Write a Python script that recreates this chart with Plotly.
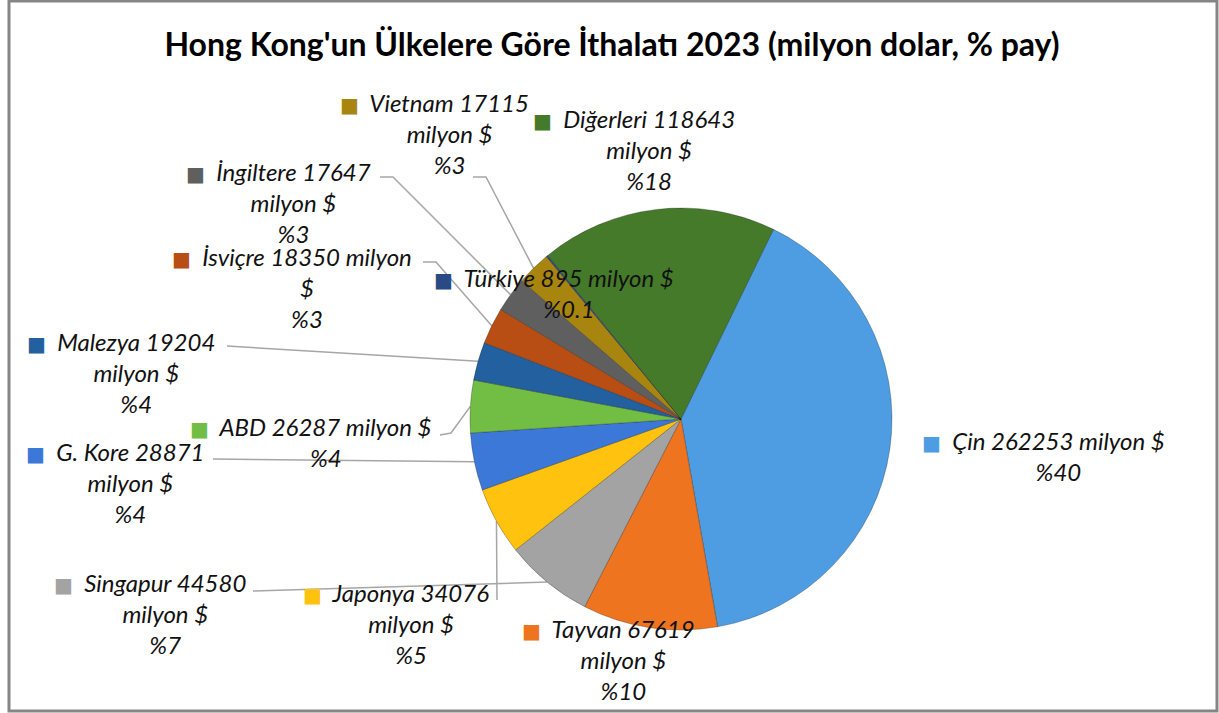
import math
import plotly.graph_objects as go

# data
countries = ["Çin", "Tayvan", "Singapur", "Japonya", "G. Kore", "ABD",
             "Malezya", "İsviçre", "İngiltere", "Vietnam", "Türkiye", "Diğerleri"]
values = [262253, 67619, 44580, 34076, 28871, 26287,
          19204, 18350, 17647, 17115, 895, 118643]
pct_labels = ["%40", "%10", "%7", "%5", "%4", "%4",
              "%4", "%3", "%3", "%3", "%0.1", "%18"]
title = "Hong Kong'un Ülkelere Göre İthalatı 2023 (milyon dolar, % pay)"

colors = ["#4E9DE3", "#EE7420", "#A3A3A3", "#FFC20E", "#3C78D8", "#72BE44",
          "#23609F", "#B84E14", "#5F5F5F", "#A8850F", "#2A4A85", "#457A2B"]

# label layout: text centre x, block middle y (pixels), line-break style
W, H = 1219, 713
label_pos = [(1058, 456), (623, 659), (165, 613), (411, 623), (130, 483), (326, 442),
             (136, 372), (307, 287), (293, 202), (449, 133), (569, 293), (649, 149)]
wrap = ["b", "a", "a", "a", "a", "b", "a", "c", "a", "a", "b", "a"]
leader_start = [None, None, [(253, 591)], [(497, 600)], [(213, 459)], [(440, 435), (451, 433)],
                [(227, 346)], [(423, 262), (436, 262)], [(380, 177), (393, 177)],
                [(473, 177), (486, 177)], None, None]

cx, cy, r = 681, 419, 211
rotation = 26


def px(x):
    return x / W


def py(y):
    return 1 - y / H


fig = go.Figure(go.Pie(
    labels=countries, values=values, sort=False, direction="clockwise",
    rotation=rotation, textinfo="none", hoverinfo="label+value+percent",
    marker=dict(colors=colors, line=dict(color="rgba(0,0,0,0.25)", width=1)),
    domain=dict(x=[px(cx - r), px(cx + r)], y=[py(cy + r), py(cy - r)]),
    showlegend=False,
))

key = "<span style='font-family:DejaVu Sans;font-style:normal;font-size:20px;color:{}'>■</span>\u00a0\u00a0"
pad = "\u00a0\u00a0<span style='font-family:DejaVu Sans;font-style:normal;font-size:20px;color:rgba(0,0,0,0)'>■</span>"

total = sum(values)
cum = 0
shapes = []
for i, name in enumerate(countries):
    v = values[i]
    if wrap[i] == "a":
        text = f"{name} {v}{pad}<br>milyon $<br>{pct_labels[i]}"
    elif wrap[i] == "b":
        text = f"{name} {v} milyon ${pad}<br>{pct_labels[i]}"
    else:
        text = f"{name} {v} milyon{pad}<br>$<br>{pct_labels[i]}"
    text = key.format(colors[i]) + text
    x, y = label_pos[i]
    fig.add_annotation(x=px(x), y=py(y), xref="paper", yref="paper", text=text,
                       showarrow=False, xanchor="center", yanchor="middle", align="center",
                       font=dict(family="Lato", size=24, color="#111111", style="italic"))

    mid = math.radians(rotation + 360 * (cum + v / 2) / total)
    cum += v
    if leader_start[i]:
        ex = cx + r * math.sin(mid)
        ey = cy - r * math.cos(mid)
        pts = leader_start[i] + [(ex, ey)]
        path = "M " + " L ".join(f"{px(a):.5f},{py(b):.5f}" for a, b in pts)
        shapes.append(dict(type="path", path=path, xref="paper", yref="paper",
                           line=dict(color="#A6A6A6", width=1.5), layer="below"))

shapes.append(dict(type="rect", xref="paper", yref="paper",
                   x0=px(9), x1=px(1217), y0=py(711), y1=py(1),
                   line=dict(color="#868686", width=3)))

fig.update_layout(
    width=W, height=H,
    margin=dict(l=0, r=0, t=0, b=0),
    paper_bgcolor="white",
    shapes=shapes,
    title=dict(text=title, x=px(612), y=py(45), xanchor="center", yanchor="middle",
               xref="paper", yref="paper",
               font=dict(family="Lato", size=32, color="black", weight="bold")),
)

fig.write_html("out.html", config={"displayModeBar": False},
               post_script="document.body.style.margin='0';document.body.style.overflow='hidden';")
